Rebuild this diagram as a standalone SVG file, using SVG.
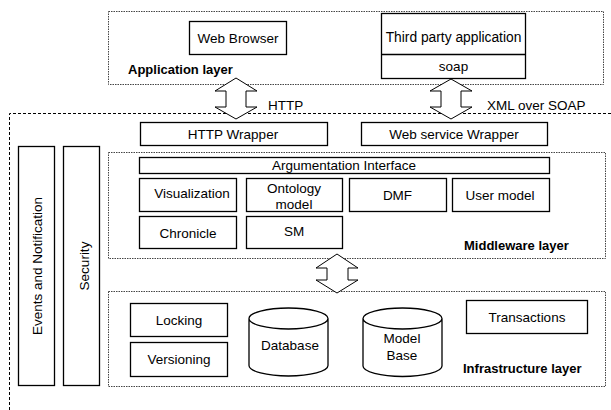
<svg xmlns="http://www.w3.org/2000/svg" width="611" height="410" viewBox="0 0 611 410">
<style>
text{font-family:"Liberation Sans",Arial,sans-serif;font-size:13.5px;fill:#000}
.c{text-anchor:middle}
.b{font-weight:bold;font-size:13px}
.box{fill:#fff;stroke:#000;stroke-width:1.3}
.layer{fill:none;stroke:#444;stroke-width:1;stroke-dasharray:1.5 1}
.frame{fill:none;stroke:#000;stroke-width:1;stroke-dasharray:3 2}
.arr{fill:#fff;stroke:#000;stroke-width:1}
</style>
<rect width="611" height="410" fill="#fff"/>
<g id="main-frame"><path class="frame" d="M611,113.5 H9.5 V410"/></g>
<g id="application-layer">
<rect class="layer" x="108.5" y="11.5" width="495" height="73"/>
<text class="b" x="128" y="74">Application layer</text>
</g>
<g id="middleware-layer">
<rect class="layer" x="108.5" y="152.5" width="497" height="106"/>
<text class="b" x="464" y="250">Middleware layer</text>
</g>
<g id="infrastructure-layer">
<rect class="layer" x="108.5" y="291.5" width="497" height="95"/>
<text class="b" x="463" y="373">Infrastructure layer</text>
</g>
<g id="connectors">
<polygon class="arr" points="236,78 257,91 246,91 246,107 257,107 236,119 215,107 226,107 226,91 215,91"/>
<polygon class="arr" points="451,79 472,91 461,91 461,107 472,107 451,119 430,107 441,107 441,91 430,91"/>
<polygon class="arr" points="337,254 358,268 348,268 348,280 358,280 337,293 316,280 327,280 327,268 316,268"/>
<text x="268" y="110">HTTP</text>
<text x="487" y="110">XML over SOAP</text>
</g>
<g id="web-browser"><rect class="box" x="189.5" y="21.5" width="97" height="33"/><text class="c" x="238" y="43">Web Browser</text></g>
<g id="third-party"><rect class="box" x="381.5" y="13.5" width="144" height="65"/><line x1="381.5" y1="54.5" x2="525.5" y2="54.5" stroke="#000" stroke-width="1.3"/><text class="c" x="453.5" y="42" style="font-size:13.8px">Third party application</text><text class="c" x="453.5" y="71">soap</text></g>
<g id="http-wrapper"><rect class="box" x="140.5" y="122.5" width="187" height="23"/><text class="c" x="233" y="138.5">HTTP Wrapper</text></g>
<g id="web-service-wrapper"><rect class="box" x="361.5" y="122.5" width="186" height="23"/><text class="c" x="454" y="138.5">Web service Wrapper</text></g>
<g id="events"><rect class="box" x="18.5" y="146.5" width="36" height="239"/><text class="c" transform="translate(42,266) rotate(-90)">Events and Notification</text></g>
<g id="security"><rect class="box" x="63.5" y="146.5" width="36" height="239"/><text class="c" transform="translate(89,266) rotate(-90)">Security</text></g>
<g id="argumentation"><rect class="box" x="139.5" y="157.5" width="410" height="16"/><text class="c" x="344" y="170">Argumentation Interface</text></g>
<g id="visualization"><rect class="box" x="139.5" y="178.5" width="97" height="33"/><text class="c" x="192" y="198">Visualization</text></g>
<g id="ontology"><rect class="box" x="246.5" y="178.5" width="96" height="33"/><text class="c" x="294" y="193">Ontology</text><text class="c" x="294" y="209">model</text></g>
<g id="dmf"><rect class="box" x="349.5" y="178.5" width="97" height="33"/><text class="c" x="397.5" y="200">DMF</text></g>
<g id="user-model"><rect class="box" x="452.5" y="178.5" width="97" height="33"/><text class="c" x="500" y="200">User model</text></g>
<g id="chronicle"><rect class="box" x="139.5" y="216.5" width="97" height="32"/><text class="c" x="188" y="238">Chronicle</text></g>
<g id="sm"><rect class="box" x="246.5" y="216.5" width="96" height="32"/><text class="c" x="294" y="236">SM</text></g>
<g id="locking"><rect class="box" x="130.5" y="303.5" width="97" height="33"/><text class="c" x="179" y="325">Locking</text></g>
<g id="versioning"><rect class="box" x="130.5" y="342.5" width="97" height="34"/><text class="c" x="179" y="364">Versioning</text></g>
<g id="database"><path class="box" d="M249,318.5 V365.5 A39.5,10.5 0 0 0 328,365.5 V318.5 A39.5,10.5 0 0 0 249,318.5 A39.5,10.5 0 0 0 328,318.5"/><text class="c" x="290" y="350">Database</text></g>
<g id="model-base"><path class="box" d="M363,318.5 V366 A39.5,10.5 0 0 0 442,366 V318.5 A39.5,10.5 0 0 0 363,318.5 A39.5,10.5 0 0 0 442,318.5"/><text class="c" x="402" y="343">Model</text><text class="c" x="402" y="360">Base</text></g>
<g id="transactions"><rect class="box" x="466.5" y="300.5" width="121" height="33"/><text class="c" x="527" y="322">Transactions</text></g>
</svg>
